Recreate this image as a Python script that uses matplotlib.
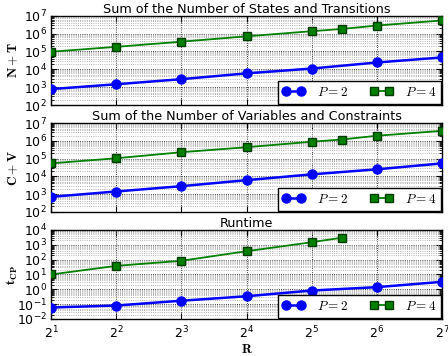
import numpy as np
import matplotlib
matplotlib.use('Agg')
import matplotlib.pyplot as plt
from matplotlib.ticker import LogLocator, NullFormatter

plt.rcParams['mathtext.fontset'] = 'cm'
plt.rcParams['axes.unicode_minus'] = False
plt.rcParams['xtick.direction'] = 'in'
plt.rcParams['ytick.direction'] = 'in'
plt.rcParams['xtick.top'] = True
plt.rcParams['ytick.right'] = True

# R values for each series
r_p2 = [2, 4, 8, 16, 32, 64, 128]
r_p4 = [2, 4, 8, 16, 32, 44, 64, 128]
r_p4_time = [2, 4, 8, 16, 32, 44]

# sum of number of states and transitions
nt_p2 = [780, 1450, 2800, 5900, 11000, 24000, 46000]
nt_p4 = [96000, 180000, 350000, 700000, 1.35e6, 1.8e6, 2.8e6, 5.4e6]

# sum of number of variables and constraints
cv_p2 = [700, 1400, 2800, 6100, 13000, 25000, 54000]
cv_p4 = [54000, 105000, 230000, 440000, 900000, 1.2e6, 1.95e6, 3.7e6]

# runtime
t_p2 = [0.059, 0.081, 0.17, 0.34, 0.83, 1.4, 3.2]
t_p4 = [10, 38, 84, 370, 1500, 3000]

titles = ['Sum of the Number of States and Transitions',
          'Sum of the Number of Variables and Constraints',
          'Runtime']
ylabels = [r'$\mathbf{N+T}$', r'$\mathbf{C+V}$', r'$\mathbf{t_{CP}}$']
ylims = [(1e2, 1e7), (1e2, 1e7), (1e-2, 1e4)]

series = [(r_p2, nt_p2, r_p4, nt_p4),
          (r_p2, cv_p2, r_p4, cv_p4),
          (r_p2, t_p2, r_p4_time, t_p4)]

fig = plt.figure(figsize=(4.48, 3.56), dpi=100)
fig.patch.set_facecolor('white')

# axes boxes [left, bottom, width, height] in figure fraction
boxes = [[0.114, 0.705, 0.873, 0.251],
         [0.114, 0.405, 0.873, 0.249],
         [0.114, 0.104, 0.873, 0.250]]

for i in range(3):
    ax = fig.add_axes(boxes[i])
    x2, y2, x4, y4 = series[i]
    ax.plot(x2, y2, 'b-o', lw=1.8, ms=6.5, mec='b', label=r'$P=2$', zorder=5)
    ax.plot(x4, y4, 'g-s', lw=1.3, ms=6, mfc='g', mec='#003a00', label=r'$P=4$', zorder=5)
    ax.set_xscale('log', base=2)
    ax.set_yscale('log')
    ax.set_xlim(2, 128)
    ax.set_ylim(*ylims[i])
    ax.yaxis.set_major_locator(LogLocator(base=10, numticks=20))
    ax.yaxis.set_minor_locator(LogLocator(base=10, subs=np.arange(2, 10), numticks=20))
    ax.yaxis.set_minor_formatter(NullFormatter())
    ax.grid(True, which='major', ls=':', color='k', lw=0.6)
    ax.grid(True, which='minor', axis='y', ls=':', color='0.6', lw=0.6)
    ax.tick_params(labelsize=9, length=4, pad=3)
    ax.tick_params(axis='x', pad=4)
    ax.tick_params(which='minor', length=2)
    for s in ax.spines.values():
        s.set_linewidth(1.0)
    ax.set_title(titles[i], fontsize=9.2, pad=2)
    ax.set_ylabel(ylabels[i], fontsize=9.5)
    ax.yaxis.set_label_coords(-0.08, 0.5)
    if i < 2:
        ax.tick_params(labelbottom=False)
    else:
        ax.set_xlabel(r'$\mathbf{R}$', fontsize=9.5, labelpad=1)
    leg = ax.legend(loc='lower right', ncol=2, numpoints=2, fancybox=False,
                    framealpha=1, edgecolor='k', fontsize=9.5, borderaxespad=0.1,
                    handlelength=1.7, columnspacing=1.7, borderpad=0.35,
                    handletextpad=0.9)
    leg.get_frame().set_linewidth(1.0)
    leg.set_zorder(10)

fig.savefig('out.png', dpi=100, facecolor='white')
